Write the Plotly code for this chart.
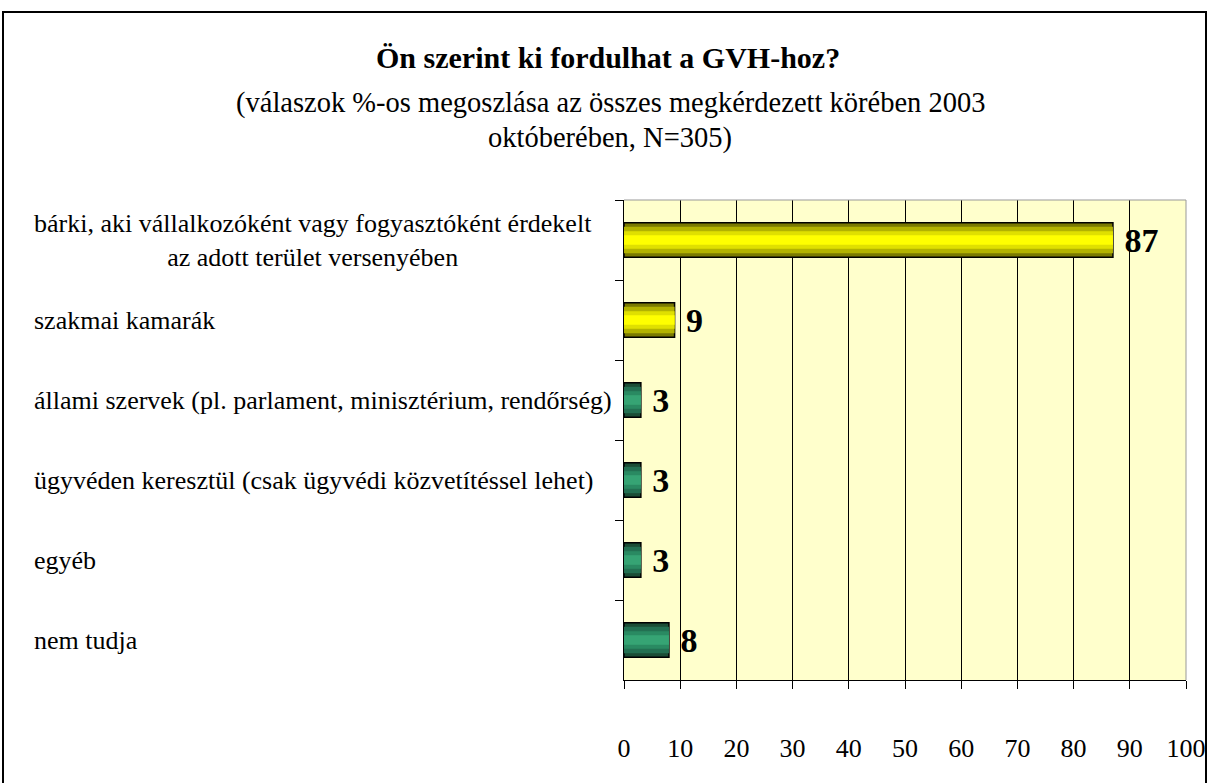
import plotly.graph_objects as go

categories = [
    "bárki, aki vállalkozóként vagy fogyasztóként érdekelt<br>az adott terület versenyében",
    "szakmai kamarák",
    "állami szervek (pl. parlament, minisztérium, rendőrség)",
    "ügyvéden keresztül (csak ügyvédi közvetítéssel lehet)",
    "egyéb",
    "nem tudja",
]
values = [87, 9, 3, 3, 3, 8]
group = ["y", "y", "g", "g", "g", "g"]
x_ticks = [0, 10, 20, 30, 40, 50, 60, 70, 80, 90, 100]

title = "<b>Ön szerint ki fordulhat a GVH-hoz?</b>"
subtitle1 = "(válaszok %-os megoszlása az összes megkérdezett körében 2003"
subtitle2 = "októberében, N=305)"

SERIF = "Liberation Serif"
pal = {
    "y": ["#7a7a00", "#b3b300", "#e0e000", "#ffff00"],
    "g": ["#1b4d36", "#237052", "#2a8a62", "#36a474"],
}
widths = [0.43, 0.33, 0.22, 0.12]

fig = go.Figure()
for i, w in enumerate(widths):
    colors = [pal[g][i] for g in group]
    fig.add_trace(go.Bar(
        y=categories, x=values, orientation="h", width=w,
        marker=dict(color=colors,
                    line=dict(color="black" if i == 0 else "rgba(0,0,0,0)", width=1.5 if i == 0 else 0)),
        texttemplate=" <b>%{x}</b>" if i == 0 else "",
        textposition="outside" if i == 0 else "none",
        textfont=dict(family=SERIF, size=34, color="black"),
        constraintext="none", cliponaxis=False, hoverinfo="skip", showlegend=False,
    ))

W, H = 1209, 783
L, R, T, B = 624, 23, 200, 103
pw, ph = W - L - R, H - T - B

def px(x):
    return (x - L) / pw

def py(y):
    return (H - B - y) / ph

annotations = [
    dict(text=title, x=px(608), y=py(58), xref="paper", yref="paper", showarrow=False,
         font=dict(family=SERIF, size=30, color="black"), xanchor="center", yanchor="middle"),
    dict(text=subtitle1, x=px(610), y=py(103), xref="paper", yref="paper", showarrow=False,
         font=dict(family=SERIF, size=28.5, color="black"), xanchor="center", yanchor="middle"),
    dict(text=subtitle2, x=px(610), y=py(138), xref="paper", yref="paper", showarrow=False,
         font=dict(family=SERIF, size=28.5, color="black"), xanchor="center", yanchor="middle"),
]
for i, c in enumerate(categories):
    annotations.append(dict(
        text=c, x=px(32), y=c, xref="paper", yref="y", showarrow=False,
        xanchor="left", yanchor="middle", align="center" if i == 0 else "left",
        font=dict(family=SERIF, size=26, color="black"),
    ))

fig.update_layout(
    width=W, height=H, barmode="overlay", autosize=False,
    margin=dict(l=L, r=R, t=T, b=B, autoexpand=False),
    paper_bgcolor="white", plot_bgcolor="#ffffcc",
    annotations=annotations,
    xaxis=dict(range=[0, 100], tickvals=x_ticks, showgrid=True, gridcolor="black", gridwidth=1,
               ticks="outside", ticklen=8, tickcolor="black", showline=True, linecolor="black",
               linewidth=1, zeroline=False, ticklabelstandoff=37, automargin=False,
               tickfont=dict(family=SERIF, size=26, color="black")),
    yaxis=dict(categoryorder="array", categoryarray=categories, autorange="reversed",
               showticklabels=False, ticks="outside", ticklen=8, tickcolor="black",
               tickson="boundaries", showline=True, linecolor="black", linewidth=1,
               showgrid=False, zeroline=False, automargin=False),
    shapes=[
        dict(type="line", xref="paper", yref="paper", x0=0, x1=1, y0=1, y1=1,
             line=dict(color="#999999", width=1)),
        dict(type="line", xref="paper", yref="paper", x0=1, x1=1, y0=0, y1=1,
             line=dict(color="#999999", width=1)),
        dict(type="rect", xref="paper", yref="paper", x0=px(3), x1=px(1206), y0=py(12), y1=py(800),
             line=dict(color="black", width=2), fillcolor="rgba(0,0,0,0)"),
    ],
)

fig.write_html(
    "out.html",
    config={"displayModeBar": False, "responsive": False},
    post_script="document.body.style.margin='0px';document.body.style.overflow='hidden';",
)
